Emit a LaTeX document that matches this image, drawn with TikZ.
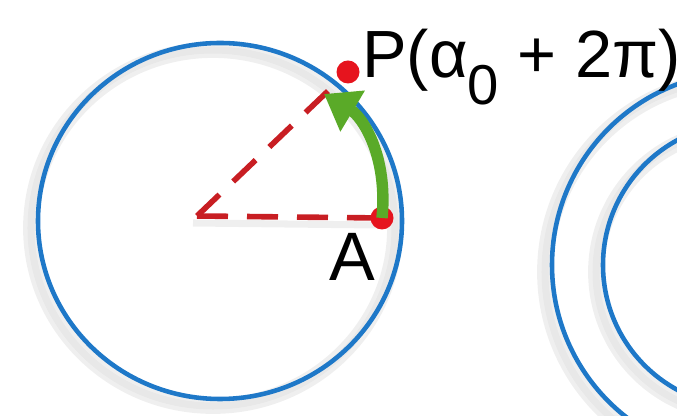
\documentclass[tikz,border=0pt]{standalone}
\usepackage{fontspec}
\setmainfont{Liberation Sans}
\usepackage{tikz}
\usetikzlibrary{arrows.meta,positioning,calc}
\definecolor{ringblue}{HTML}{1E78C8}
\definecolor{rayred}{HTML}{C81E23}
\definecolor{dotred}{HTML}{E6141E}
\definecolor{turngreen}{HTML}{5AAA28}

\begin{document}
\begin{tikzpicture}[>=Latex,font=\fontsize{38}{44}\selectfont]
\tikzset{
ring/.style={draw=ringblue,line width=2.6pt},
halo/.style={draw=black!12,line width=7pt,opacity=0.5},
ray/.style={draw=rayred,line width=3.2pt,dash pattern=on 0.62cm off 0.38cm},
dot/.style={circle,fill=dotred,inner sep=0pt,minimum size=0.46cm},
turn/.style={draw=turngreen,line width=6.5pt,-{Triangle[width=26pt,length=19pt]}},
lbl/.style={inner sep=0pt,text=black}}

\useasboundingbox (0,0) rectangle (13.54,8.32);
\clip (0,0) rectangle (13.54,8.32);

\coordinate (O) at (3.94,4.00);
\coordinate (A) at (7.64,3.96);
\coordinate (P) at (6.96,6.88);
\coordinate (tip) at (6.48,6.44);

% soft shadows under the rings
\foreach \w in {9pt,4pt}{
  \draw[halo,line width=\w] (4.26,3.76) ellipse (3.64cm and 3.56cm);
  \draw[halo,line width=\w] (14.76,2.88) circle (3.86cm);
  \draw[halo,line width=\w] (14.76,2.88) circle (2.84cm);
}

\draw[ring] (4.40,3.90) ellipse (3.64cm and 3.56cm);
\draw[ring] (14.90,3.02) circle (3.86cm);
\draw[ring] (14.90,3.02) circle (2.84cm);

\draw[halo,line width=4pt] ($(O)+(-0.08,-0.14)$) -- ($(A)+(-0.08,-0.14)$);
\draw[ray] (O) -- (A);
\draw[ray] (O) -- ($(O)!0.87!(P)$);

\node[dot] (dotA) at (A) {};
\node[dot] (dotP) at (P) {};

\draw[turn] (A) .. controls (7.76,5.20) and (7.25,5.98) .. (tip);

\node[lbl,anchor=base west] (labP) at (7.24,6.76)
  {P(α\raisebox{-15pt}{\fontsize{32}{36}\selectfont 0} + 2π)};
\node[lbl,font=\fontsize{39}{44}\selectfont] (labA) at (7.04,3.18) {A};
\end{tikzpicture}
\end{document}
